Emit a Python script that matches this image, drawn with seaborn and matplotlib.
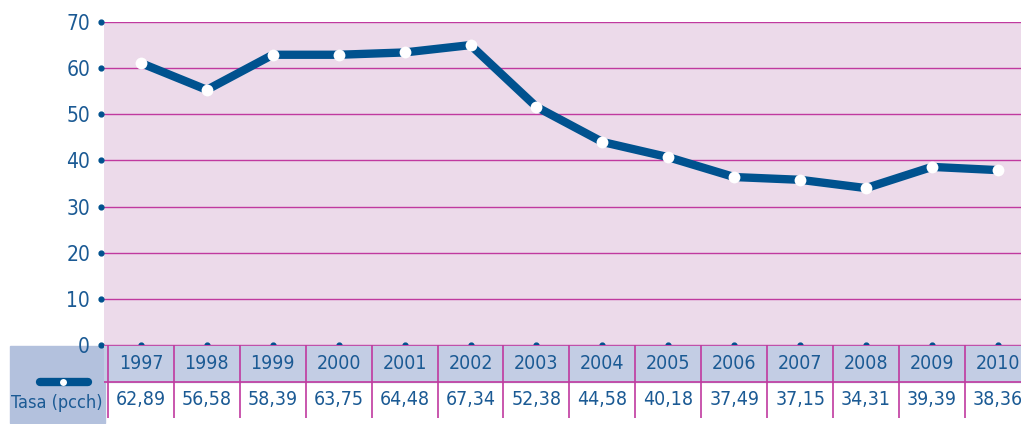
import matplotlib
matplotlib.use("Agg")
import matplotlib.pyplot as plt
import matplotlib.patches as mpatches
import matplotlib.lines as mlines
import matplotlib.transforms as mtransforms
import seaborn as sns
import pandas as pd

years = [1997, 1998, 1999, 2000, 2001, 2002, 2003, 2004, 2005, 2006, 2007, 2008, 2009, 2010]
plotted = [61.1, 55.3, 62.9, 62.9, 63.4, 65.0, 51.6, 44.0, 40.7, 36.4, 35.8, 34.0, 38.6, 37.9]
table_labels = ["62,89", "56,58", "58,39", "63,75", "64,48", "67,34", "52,38",
                "44,58", "40,18", "37,49", "37,15", "34,31", "39,39", "38,36"]
series_name = "Tasa (pcch)"
yticks = [0, 10, 20, 30, 40, 50, 60, 70]

NAVY = "#00528f"
TXT = "#1b5a94"
MAG = "#c0399f"
PINK = "#ecdaea"
HEAD = "#c3cde4"
LBL = "#b3c1dd"

sns.set_theme(style="white")
plt.rcParams["font.family"] = ["Liberation Sans Narrow", "DejaVu Sans"]
plt.rcParams["font.stretch"] = "condensed"

W, H = 1021, 424
fig = plt.figure(figsize=(W / 100, H / 100), dpi=100)

def fx(px):
    return px / W

def fy(py):
    return 1 - py / H

xl = (1996.44, 2010.35)
ax = fig.add_axes([fx(104), fy(345), fx(1021) - fx(104), fy(22) - fy(345)])
ax.set_facecolor(PINK)
df = pd.DataFrame({"year": years, "val": plotted})
for t in yticks:
    ax.axhline(t, color=MAG, lw=1.0, zorder=1)
sns.lineplot(data=df, x="year", y="val", ax=ax, color=NAVY, lw=6, marker="o",
             markersize=8.5, markerfacecolor="white", markeredgecolor="white",
             markeredgewidth=0, zorder=3)
ax.set_xlim(*xl)
ax.set_ylim(0, 70)
ax.set_xticks([])
ax.set_yticks(yticks)
ax.set_yticklabels([str(t) for t in yticks], color=TXT, fontsize=15)
ax.tick_params(axis="y", length=0, pad=10)
ax.set_xlabel("")
ax.set_ylabel("")
for s in ax.spines.values():
    s.set_visible(False)
trans_y = mtransforms.blended_transform_factory(ax.transAxes, ax.transData)
ax.scatter([-0.003] * len(yticks), yticks, s=12, color=NAVY, transform=trans_y,
           clip_on=False, zorder=5)
ax.scatter(years, [0] * len(years), s=12, color=NAVY, clip_on=False, zorder=5)

# table
tab = fig.add_axes([fx(104), fy(418), fx(1021) - fx(104), fy(345) - fy(418)])
tab.set_xlim(*xl)
tab.set_ylim(0, 2)
tab.axis("off")
tab.axhspan(1, 2, color=HEAD, zorder=0)
tab.axhline(1, color=MAG, lw=1.2)
tab.axhline(2, color=MAG, lw=1.2)
for i, y in enumerate(years):
    tab.text(y, 1.48, str(y), ha="center", va="center", color=TXT, fontsize=14)
    tab.text(y, 0.5, table_labels[i], ha="center", va="center", color=TXT, fontsize=14)
    tab.axvline(y + 0.5, color=MAG, lw=1.2)
tab.axvline(years[0] - 0.5, color=MAG, lw=1.2)

# label cell
fig.add_artist(mpatches.Rectangle((fx(10), fy(423)), fx(105) - fx(10), fy(346) - fy(423),
                                  transform=fig.transFigure, color=LBL, zorder=0))
fig.add_artist(mlines.Line2D([fx(40), fx(88)], [fy(382), fy(382)], transform=fig.transFigure,
                             color=NAVY, lw=6, solid_capstyle="round"))
fig.add_artist(mlines.Line2D([fx(63)], [fy(382)], transform=fig.transFigure, marker="o",
                             markersize=5, color="white", markeredgewidth=0))
fig.text(fx(57), fy(403), series_name, ha="center", va="center", color=TXT, fontsize=13)

fig.savefig("out.png", dpi=100)
